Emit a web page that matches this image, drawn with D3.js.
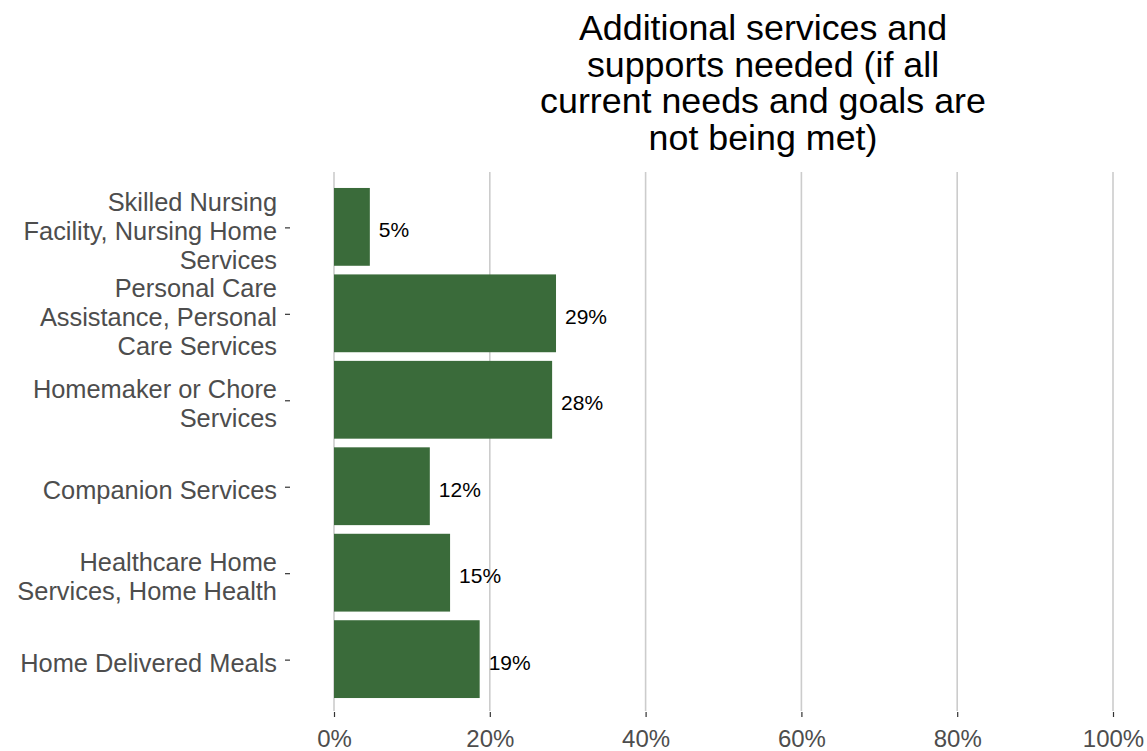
<!DOCTYPE html>
<html>
<head>
<meta charset="utf-8">
<script src="https://cdn.jsdelivr.net/npm/d3@7"></script>
<style>
  html, body { margin: 0; padding: 0; background: #fff; }
  svg { display: block; font-family: "Liberation Sans", Arial, sans-serif; }
</style>
</head>
<body>
<svg id="chart" width="1147" height="751"></svg>
<script>
const categories = [
  ["Skilled Nursing", "Facility, Nursing Home", "Services"],
  ["Personal Care", "Assistance, Personal", "Care Services"],
  ["Homemaker or Chore", "Services"],
  ["Companion Services"],
  ["Healthcare Home", "Services, Home Health"],
  ["Home Delivered Meals"]
];
const values = [0.046, 0.285, 0.28, 0.123, 0.149, 0.187];
const valueLabels = ["5%", "29%", "28%", "12%", "15%", "19%"];
const xTicks = [0, 0.2, 0.4, 0.6, 0.8, 1.0];
const titleLines = ["Additional services and", "supports needed (if all", "current needs and goals are", "not being met)"];

const svg = d3.select("#chart");
const panelTop = 175, panelBottom = 711;
const x = d3.scaleLinear().domain([0, 1]).range([334, 1113]);
const y = d3.scaleBand().domain(d3.range(categories.length))
  .range([panelTop, panelBottom]).paddingInner(0.1).paddingOuter(0.15);

// title
svg.append("text")
  .attr("x", 763).attr("y", 40)
  .attr("text-anchor", "middle")
  .attr("font-size", 35.8).attr("fill", "#000")
  .selectAll("tspan").data(titleLines).join("tspan")
  .attr("x", 763).attr("dy", (d, i) => i === 0 ? 0 : 36.5)
  .text(d => d);

// gridlines
svg.append("g").selectAll("line").data(xTicks).join("line")
  .attr("x1", d => x(d)).attr("x2", d => x(d))
  .attr("y1", panelTop - 3).attr("y2", panelBottom)
  .attr("stroke", "#cccccc").attr("stroke-width", 1.6);

// bars
svg.append("g").selectAll("rect").data(values).join("rect")
  .attr("x", x(0)).attr("y", (d, i) => y(i))
  .attr("width", d => x(d) - x(0)).attr("height", y.bandwidth())
  .attr("fill", "#3a6b3a");

// value labels
svg.append("g").selectAll("text").data(values).join("text")
  .attr("x", d => x(d) + 9)
  .attr("y", (d, i) => y(i) + y.bandwidth() / 2 + 3)
  .attr("dy", "0.36em")
  .attr("font-size", 21).attr("fill", "#000")
  .text((d, i) => valueLabels[i]);

// x axis
const xAxis = d3.axisBottom(x).tickValues(xTicks).tickFormat(d3.format(".0%"))
  .tickSize(5).tickPadding(13);
const gx = svg.append("g").attr("transform", `translate(0,${panelBottom + 1})`).call(xAxis);
gx.select(".domain").remove();
gx.selectAll(".tick line").attr("stroke", "#333").attr("stroke-width", 1.2);
gx.selectAll(".tick text").attr("font-size", 24).attr("fill", "#4d4d4d")
  .attr("font-family", "'Liberation Sans', Arial, sans-serif");

// y axis
const lineH = 29;
const gy = svg.append("g");
const ticks = gy.selectAll("g").data(categories).join("g")
  .attr("transform", (d, i) => `translate(0,${y(i) + y.bandwidth() / 2})`);
ticks.append("line")
  .attr("x1", 285).attr("x2", 290).attr("y1", 1).attr("y2", 1)
  .attr("stroke", "#333").attr("stroke-width", 1.2);
ticks.append("text")
  .attr("text-anchor", "end")
  .attr("font-size", 25.4).attr("fill", "#4d4d4d")
  .each(function(d) {
    const t = d3.select(this);
    const n = d.length;
    d.forEach((line, j) => {
      t.append("tspan").attr("x", 277)
        .attr("y", (j - (n - 1) / 2) * lineH + 4)
        .attr("dy", "0.36em")
        .text(line);
    });
  });
</script>
</body>
</html>
